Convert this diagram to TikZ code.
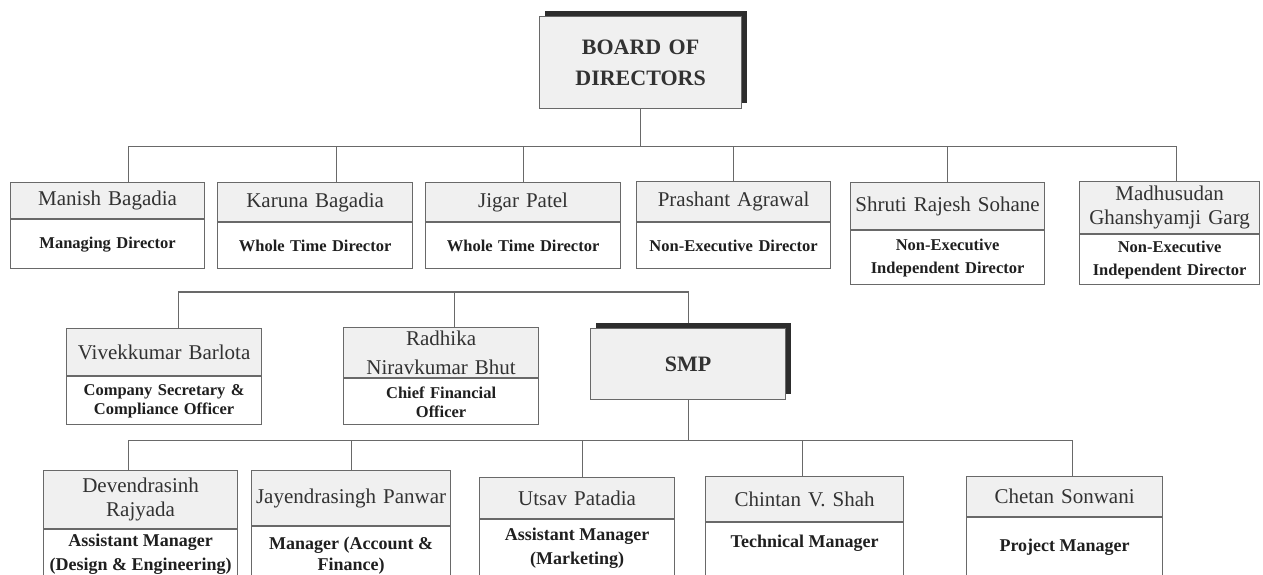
\documentclass[tikz,border=0pt]{standalone}
\usepackage{fontspec}
\setmainfont{Liberation Serif}
\usepackage{tikz}
\usetikzlibrary{positioning,shadows,backgrounds}
\definecolor{LineGray}{RGB}{105,105,105}
\definecolor{HeadFill}{RGB}{240,240,240}
\definecolor{NameGray}{RGB}{50,50,50}
\definecolor{ShadowGray}{RGB}{45,45,45}
\newcommand{\roletop}[3]{\parbox[t][90pt][t]{#1}{\vspace*{#2}\centering #3}}

\begin{document}
\begin{tikzpicture}[x=1pt, y=-1pt,
    link/.style={draw=LineGray, line width=1.2pt},
    namebox/.style={draw=LineGray, line width=1.2pt, fill=HeadFill, anchor=north west,
        inner sep=0pt, align=center, text=NameGray, font=\fontsize{21}{24}\selectfont},
    rolebox/.style={draw=LineGray, line width=1.2pt, fill=white, inner sep=0pt,
        align=center, text=black!88, font=\fontsize{16.5}{19}\selectfont\bfseries},
    rolebox low/.style={draw=LineGray, line width=1.2pt, fill=white, inner sep=0pt,
        text=black!88, font=\fontsize{18}{24}\selectfont\bfseries},
    topbox/.style={draw=LineGray, line width=1.2pt, fill=HeadFill, anchor=north west,
        inner sep=0pt, align=center, text=NameGray, font=\fontsize{22}{31}\selectfont\bfseries,
        drop shadow={shadow xshift=5pt, shadow yshift=6pt, fill=ShadowGray, opacity=1}}]
    \path[use as bounding box] (0,0) rectangle (1263,575);
    \clip (0,0) rectangle (1263,575);

    % Board
    \node[topbox, text width=202pt, minimum height=92pt] (board) at (539,16) {BOARD OF\\DIRECTORS};

    % Directors
    \node[namebox, text width=194pt, minimum height=36pt] (manish) at (10,182) {Manish Bagadia};
    \node[rolebox, text width=194pt, minimum height=49pt, below=0pt of manish] (manish-role) {Managing Director};
    \node[namebox, text width=195pt, minimum height=39pt] (karuna) at (217,182) {Karuna Bagadia};
    \node[rolebox, text width=195pt, minimum height=46pt, below=0pt of karuna] (karuna-role) {Whole Time Director};
    \node[namebox, text width=195pt, minimum height=39pt] (jigar) at (425,182) {Jigar Patel};
    \node[rolebox, text width=195pt, minimum height=46pt, below=0pt of jigar] (jigar-role) {Whole Time Director};
    \node[namebox, text width=194pt, minimum height=40pt] (prashant) at (636,181) {Prashant Agrawal};
    \node[rolebox, text width=194pt, minimum height=46pt, below=0pt of prashant] (prashant-role) {Non-Executive Director};
    \node[namebox, text width=194pt, minimum height=47pt] (shruti) at (850,182) {Shruti Rajesh Sohane};
    \node[rolebox, text width=194pt, minimum height=54pt, below=0pt of shruti] (shruti-role) {Non-Executive\\[4pt]Independent Director};
    \node[namebox, text width=180pt, minimum height=52pt] (madhu) at (1079,181) {Madhusudan\\Ghanshyamji Garg};
    \node[rolebox, text width=180pt, minimum height=50pt, below=0pt of madhu] (madhu-role) {Non-Executive\\[4pt]Independent Director};

    % Officers and SMP
    \node[namebox, text width=195pt, minimum height=47pt] (vivek) at (66,328) {Vivekkumar Barlota};
    \node[rolebox, text width=195pt, minimum height=48pt, below=0pt of vivek] (vivek-role) {Company Secretary \&\\Compliance Officer};
    \node[namebox, text width=195pt, minimum height=50pt] (radhika) at (343,327) {Radhika\\[5pt]Niravkumar Bhut};
    \node[rolebox, text width=195pt, minimum height=46pt, below=0pt of radhika] (radhika-role) {Chief Financial\\Officer};
    \node[topbox, text width=195pt, minimum height=71pt] (smp) at (590,328) {SMP};

    % Managers
    \node[namebox, text width=194pt, minimum height=58pt] (devendra) at (43,470) {Devendrasinh\\Rajyada};
    \node[rolebox low, below=0pt of devendra] (devendra-role) {\roletop{194pt}{4pt}{Assistant Manager\\(Design \& Engineering)}};
    \node[namebox, text width=199pt, minimum height=55pt] (jayendra) at (251,470) {Jayendrasingh Panwar};
    \node[rolebox low, below=0pt of jayendra] (jayendra-role) {\roletop{199pt}{10pt}{Manager (Account \&\\[-3pt]Finance)}};
    \node[namebox, text width=195pt, minimum height=41pt] (utsav) at (479,477) {Utsav Patadia};
    \node[rolebox low, below=0pt of utsav] (utsav-role) {\roletop{195pt}{8pt}{Assistant Manager\\(Marketing)}};
    \node[namebox, text width=198pt, minimum height=45pt] (chintan) at (705,476) {Chintan V. Shah};
    \node[rolebox low, below=0pt of chintan] (chintan-role) {\roletop{198pt}{12pt}{Technical Manager}};
    \node[namebox, text width=196pt, minimum height=40pt] (chetan) at (966,476) {Chetan Sonwani};
    \node[rolebox low, below=0pt of chetan] (chetan-role) {\roletop{196pt}{21pt}{Project Manager}};

    % Connectors
    \begin{scope}[on background layer]
        \draw[link] (board.south) -- ++(0,37) -| ([xshift=21pt]manish.north);
        \draw[link] (board.south) -- ++(0,37) -| ([xshift=21.5pt]karuna.north);
        \draw[link] (board.south) -- ++(0,37) -| (jigar.north);
        \draw[link] (board.south) -- ++(0,37) -| (prashant.north);
        \draw[link] (board.south) -- ++(0,37) -| (shruti.north);
        \draw[link] (board.south) -- ++(0,37) -| ([xshift=7pt]madhu.north);

        \draw[link] ([xshift=14.5pt]vivek.north) -- ++(0,-36) -| (smp.north);
        \draw[link] ([xshift=13.5pt]radhika.north) -- ++(0,-35);

        \draw[link] (smp.south) -- ++(0,40) -| ([xshift=-12pt]devendra.north);
        \draw[link] (smp.south) -- ++(0,40) -| (jayendra.north);
        \draw[link] (smp.south) -- ++(0,40) -| ([xshift=5.5pt]utsav.north);
        \draw[link] (smp.south) -- ++(0,40) -| ([xshift=-2pt]chintan.north);
        \draw[link] (smp.south) -- ++(0,40) -| ([xshift=8pt]chetan.north);
    \end{scope}
\end{tikzpicture}
\end{document}
